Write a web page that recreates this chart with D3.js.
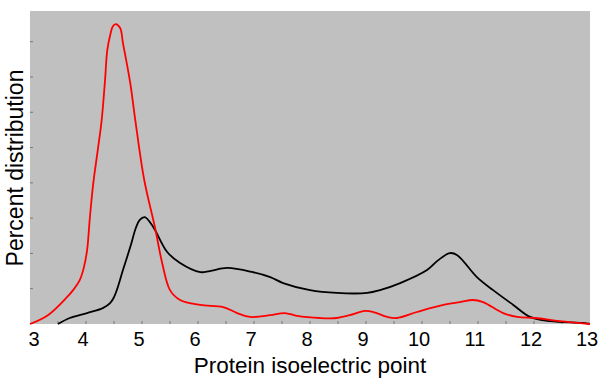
<!DOCTYPE html>
<html>
<head>
<meta charset="utf-8">
<script src="https://cdn.jsdelivr.net/npm/d3@7"></script>
<style>
    body { margin: 0; background: #fff; }
    text { font-family: "Liberation Sans", Arial, sans-serif; fill: #000; }
</style>
</head>
<body>
<div id="chart"></div>
<script>
// pI values (x) and percent distribution (y)
const redPI = [3.00, 3.32, 3.66, 3.77, 3.89, 3.96, 4.02, 4.07, 4.13, 4.21, 4.28, 4.34, 4.38, 4.44, 4.48,
    4.53, 4.61, 4.66, 4.79, 4.88, 5.04, 5.23, 5.36, 5.50, 5.68, 6.04, 6.45, 6.70, 6.93, 7.29,
    7.55, 7.77, 8.18, 8.48, 8.71, 8.98, 9.13, 9.38, 9.55, 9.91, 10.38, 10.68, 10.91, 11.09,
    11.45, 11.70, 12.02, 12.46, 13.00];
const redPct = [0, 0.25, 0.76, 0.96, 1.25, 1.59, 2.10, 3.03, 3.99, 4.93, 5.78, 6.91, 7.76, 8.24, 8.44,
    8.50, 8.39, 7.96, 6.83, 5.78, 4.08, 2.75, 1.73, 0.96, 0.68, 0.54, 0.48, 0.31, 0.20, 0.25,
    0.31, 0.23, 0.17, 0.17, 0.25, 0.37, 0.34, 0.20, 0.17, 0.34, 0.54, 0.62, 0.68, 0.62,
    0.31, 0.20, 0.17, 0.08, 0];

const blackPI = [3.50, 3.71, 4.02, 4.30, 4.43, 4.50, 4.55, 4.66, 4.79, 4.89, 4.96, 5.05, 5.20, 5.45,
    5.68, 6.04, 6.21, 6.52, 6.98, 7.29, 7.52, 8.00, 8.48, 9.02, 9.25, 9.61, 10.09, 10.29,
    10.50, 10.63, 10.98, 11.27, 11.63, 11.93, 12.29, 12.88, 13.00];
const blackPct = [0, 0.17, 0.31, 0.45, 0.59, 0.76, 0.96, 1.53, 2.18, 2.72, 2.95, 3.03, 2.75, 2.04,
    1.73, 1.47, 1.50, 1.59, 1.47, 1.33, 1.16, 0.96, 0.88, 0.88, 0.96, 1.16, 1.53, 1.81,
    2.01, 1.95, 1.33, 0.96, 0.54, 0.20, 0.08, 0.03, 0];

const xTickLabels = [3, 4, 5, 6, 7, 8, 9, 10, 11, 12, 13];
const xMinorTicks = d3.range(3.5, 13, 0.5);
const yTicks = [1, 2, 3, 4, 5, 6, 7, 8];

const margin = { top: 11, right: 10, bottom: 58, left: 30 };
const width = 600 - margin.left - margin.right;
const height = 382 - margin.top - margin.bottom;

const svg = d3.select("#chart").append("svg")
    .attr("width", 600)
    .attr("height", 382);

const g = svg.append("g")
    .attr("transform", `translate(${margin.left},${margin.top})`);

const x = d3.scaleLinear().domain([3, 13]).range([0, width]);
const y = d3.scaleLinear().domain([0, 8.87]).range([height, 0]);

g.append("rect")
    .attr("width", width)
    .attr("height", height)
    .attr("fill", "#c0c0c0");

// small ticks drawn inward
g.selectAll(".xtick")
    .data(xMinorTicks)
    .enter().append("line")
    .attr("class", "xtick")
    .attr("x1", d => x(d)).attr("x2", d => x(d))
    .attr("y1", height).attr("y2", height - 3)
    .attr("stroke", "#777").attr("stroke-width", 1);

g.selectAll(".ytick")
    .data(yTicks)
    .enter().append("line")
    .attr("class", "ytick")
    .attr("x1", 0).attr("x2", 3)
    .attr("y1", d => y(d)).attr("y2", d => y(d))
    .attr("stroke", "#777").attr("stroke-width", 1);

g.selectAll(".xlabel")
    .data(xTickLabels)
    .enter().append("text")
    .attr("class", "xlabel")
    .attr("x", d => d === 3 ? x(d) + 4 : x(d) - 3)
    .attr("y", height + 22)
    .attr("text-anchor", "middle")
    .style("font-size", "20px")
    .text(d => d);

const line = d3.line()
    .x(d => x(d[0]))
    .y(d => y(d[1]))
    .curve(d3.curveCatmullRom.alpha(0.5));

g.append("path")
    .datum(blackPI.map((v, i) => [v, blackPct[i]]))
    .attr("fill", "none")
    .attr("stroke", "#000")
    .attr("stroke-width", 1.8)
    .attr("d", line);

g.append("path")
    .datum(redPI.map((v, i) => [v, redPct[i]]))
    .attr("fill", "none")
    .attr("stroke", "#ff0000")
    .attr("stroke-width", 1.8)
    .attr("d", line);

svg.append("text")
    .attr("x", 310)
    .attr("y", 373)
    .attr("text-anchor", "middle")
    .style("font-size", "22.5px")
    .text("Protein isoelectric point");

svg.append("text")
    .attr("transform", "translate(23,168) rotate(-90)")
    .attr("text-anchor", "middle")
    .style("font-size", "23px")
    .text("Percent distribution");
</script>
</body>
</html>
